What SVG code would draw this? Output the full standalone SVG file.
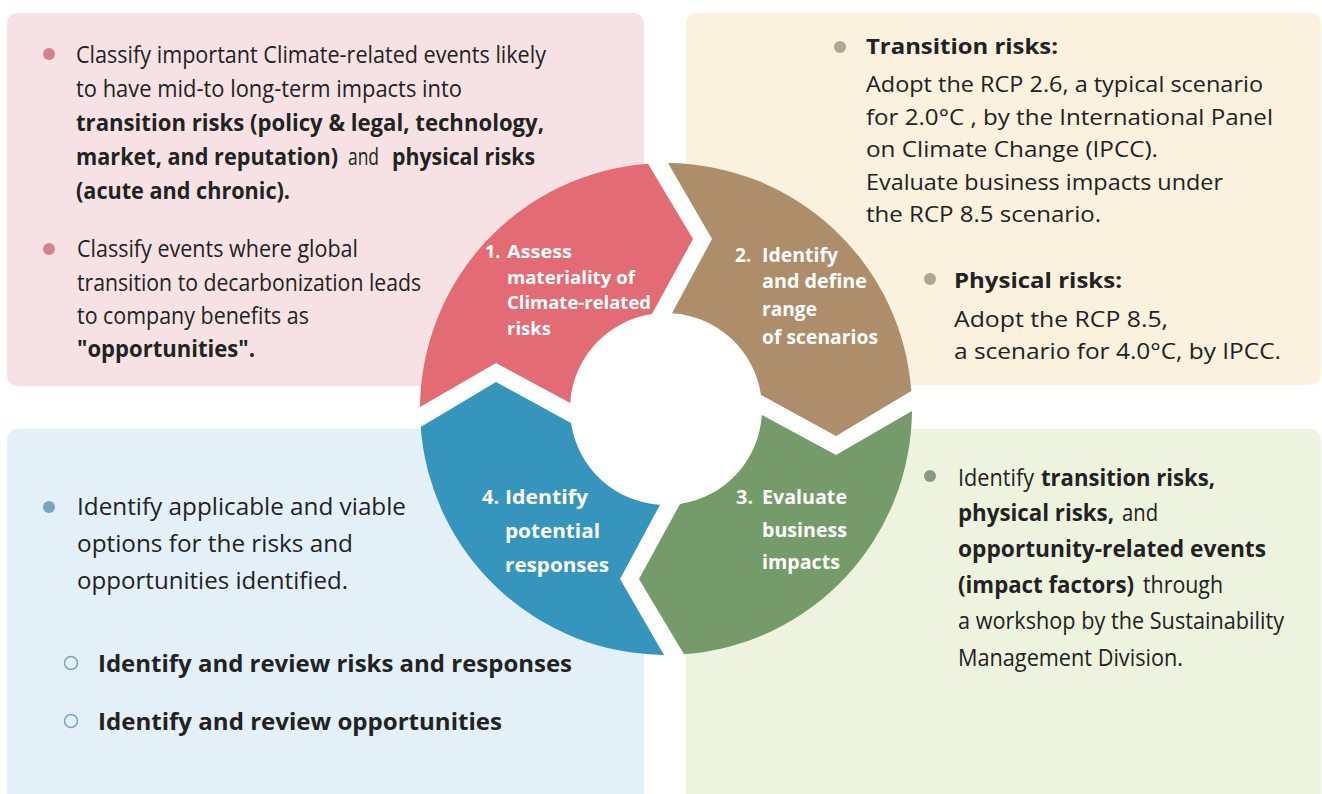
<svg xmlns="http://www.w3.org/2000/svg" width="1322" height="794" viewBox="0 0 1322 794">
<style>
.body{font-family:"Open Sans","Noto Sans","DejaVu Sans",sans-serif;fill:#222;}
.b{font-weight:700;}
.r{font-weight:400;}
.lbl{font-family:"Open Sans","Noto Sans","DejaVu Sans",sans-serif;font-weight:700;fill:#ffffff;}
</style>
<defs>
<path id="seg" d="M 420.01,407 A 246 246 0 0 1 648,163.66 L 693,239 L 652,314.03 A 96 96 0 0 0 570.19,403 L 496,363 Z"/>
</defs>
<rect width="1322" height="794" fill="#ffffff"/>

<g id="panel-assess">
<rect x="7" y="13" width="637" height="373" rx="10" fill="#F6E2E4"/>
<circle cx="49" cy="54" r="6" fill="#D4838B"/>
<text class="body r" font-size="23" x="76" y="63" textLength="470" lengthAdjust="spacingAndGlyphs">Classify important Climate-related events likely</text>
<text class="body r" font-size="23" x="76" y="97" textLength="386" lengthAdjust="spacingAndGlyphs">to have mid-to long-term impacts into</text>
<text class="body b" font-size="23" x="76" y="131" textLength="468" lengthAdjust="spacingAndGlyphs">transition risks (policy &amp; legal, technology,</text>
<text class="body b" font-size="23" x="76" y="165" textLength="262" lengthAdjust="spacingAndGlyphs">market, and reputation)</text>
<text class="body r" font-size="23" x="348" y="165" textLength="31" lengthAdjust="spacingAndGlyphs">and</text>
<text class="body b" font-size="23" x="392" y="165" textLength="143" lengthAdjust="spacingAndGlyphs">physical risks</text>
<text class="body b" font-size="23" x="76" y="199" textLength="214" lengthAdjust="spacingAndGlyphs">(acute and chronic).</text>
<circle cx="49" cy="249" r="6" fill="#D4838B"/>
<text class="body r" font-size="23" x="77" y="257" textLength="281" lengthAdjust="spacingAndGlyphs">Classify events where global</text>
<text class="body r" font-size="23" x="77" y="291" textLength="344" lengthAdjust="spacingAndGlyphs">transition to decarbonization leads</text>
<text class="body r" font-size="23" x="77" y="324" textLength="232" lengthAdjust="spacingAndGlyphs">to company benefits as</text>
<text class="body b" font-size="23" x="77" y="357" textLength="178" lengthAdjust="spacingAndGlyphs">"opportunities".</text>
</g>

<g id="panel-scenarios">
<rect x="686" y="13" width="635" height="372" rx="10" fill="#FAF1DF"/>
<circle cx="840" cy="47" r="6" fill="#B3A48E"/>
<text class="body b" font-size="22" x="866" y="54" textLength="192" lengthAdjust="spacingAndGlyphs">Transition risks:</text>
<text class="body r" font-size="22" x="866" y="92" textLength="397" lengthAdjust="spacingAndGlyphs">Adopt the RCP 2.6, a typical scenario</text>
<text class="body r" font-size="22" x="866" y="125" textLength="407" lengthAdjust="spacingAndGlyphs">for 2.0°C , by the International Panel</text>
<text class="body r" font-size="22" x="866" y="157" textLength="292" lengthAdjust="spacingAndGlyphs">on Climate Change (IPCC).</text>
<text class="body r" font-size="22" x="866" y="190" textLength="357" lengthAdjust="spacingAndGlyphs">Evaluate business impacts under</text>
<text class="body r" font-size="22" x="866" y="222" textLength="235" lengthAdjust="spacingAndGlyphs">the RCP 8.5 scenario.</text>
<circle cx="930" cy="279" r="6" fill="#B3A48E"/>
<text class="body b" font-size="22" x="954" y="288" textLength="168" lengthAdjust="spacingAndGlyphs">Physical risks:</text>
<text class="body r" font-size="22" x="954" y="327" textLength="214" lengthAdjust="spacingAndGlyphs">Adopt the RCP 8.5,</text>
<text class="body r" font-size="22" x="954" y="359" textLength="327" lengthAdjust="spacingAndGlyphs">a scenario for 4.0°C, by IPCC.</text>
</g>

<g id="panel-responses">
<rect x="7" y="429" width="637" height="380" rx="10" fill="#E3F0F8"/>
<circle cx="49" cy="507" r="6" fill="#7AA5B8"/>
<text class="body r" font-size="23" x="77" y="515" textLength="329" lengthAdjust="spacingAndGlyphs">Identify applicable and viable</text>
<text class="body r" font-size="23" x="77" y="552" textLength="276" lengthAdjust="spacingAndGlyphs">options for the risks and</text>
<text class="body r" font-size="23" x="77" y="589" textLength="271" lengthAdjust="spacingAndGlyphs">opportunities identified.</text>
<circle cx="71" cy="663" r="6.5" fill="none" stroke="#7AA5B8" stroke-width="1.5"/>
<text class="body b" font-size="23" x="98" y="672" textLength="474" lengthAdjust="spacingAndGlyphs">Identify and review risks and responses</text>
<circle cx="71" cy="721" r="6.5" fill="none" stroke="#7AA5B8" stroke-width="1.5"/>
<text class="body b" font-size="23" x="98" y="730" textLength="404" lengthAdjust="spacingAndGlyphs">Identify and review opportunities</text>
</g>

<g id="panel-evaluate">
<rect x="686" y="429" width="635" height="380" rx="10" fill="#EEF3DF"/>
<circle cx="930" cy="476" r="6" fill="#8A9A80"/>
<text class="body r" font-size="23" x="958" y="486" textLength="76" lengthAdjust="spacingAndGlyphs">Identify</text>
<text class="body b" font-size="23" x="1041" y="486" textLength="174" lengthAdjust="spacingAndGlyphs">transition risks,</text>
<text class="body b" font-size="23" x="958" y="521" textLength="156" lengthAdjust="spacingAndGlyphs">physical risks,</text>
<text class="body r" font-size="23" x="1122" y="521" textLength="36" lengthAdjust="spacingAndGlyphs">and</text>
<text class="body b" font-size="23" x="958" y="557" textLength="308" lengthAdjust="spacingAndGlyphs">opportunity-related events</text>
<text class="body b" font-size="23" x="958" y="593" textLength="176" lengthAdjust="spacingAndGlyphs">(impact factors)</text>
<text class="body r" font-size="23" x="1143" y="593" textLength="80" lengthAdjust="spacingAndGlyphs">through</text>
<text class="body r" font-size="23" x="958" y="629" textLength="326" lengthAdjust="spacingAndGlyphs">a workshop by the Sustainability</text>
<text class="body r" font-size="23" x="958" y="666" textLength="225" lengthAdjust="spacingAndGlyphs">Management Division.</text>
</g>

<circle cx="666" cy="409" r="246" fill="#ffffff"/>

<g id="step1">
<use href="#seg" fill="#E26B74"/>
<text class="lbl" font-size="18" x="485" y="258">1.</text>
<text class="lbl" font-size="18" x="507" y="258" textLength="65" lengthAdjust="spacingAndGlyphs">Assess</text>
<text class="lbl" font-size="18" x="507" y="284" textLength="128" lengthAdjust="spacingAndGlyphs">materiality of</text>
<text class="lbl" font-size="18" x="507" y="309" textLength="144" lengthAdjust="spacingAndGlyphs">Climate-related</text>
<text class="lbl" font-size="18" x="507" y="335" textLength="44" lengthAdjust="spacingAndGlyphs">risks</text>
</g>

<g id="step2">
<use href="#seg" fill="#AE8D6A" transform="rotate(90 666 409)"/>
<text class="lbl" font-size="19" x="735" y="262">2.</text>
<text class="lbl" font-size="19" x="762" y="262" textLength="76" lengthAdjust="spacingAndGlyphs">Identify</text>
<text class="lbl" font-size="19" x="762" y="288" textLength="105" lengthAdjust="spacingAndGlyphs">and define</text>
<text class="lbl" font-size="19" x="762" y="316" textLength="55" lengthAdjust="spacingAndGlyphs">range</text>
<text class="lbl" font-size="19" x="762" y="344" textLength="116" lengthAdjust="spacingAndGlyphs">of scenarios</text>
</g>

<g id="step3">
<use href="#seg" fill="#749B69" transform="rotate(180 666 409)"/>
<text class="lbl" font-size="20" x="736" y="504">3.</text>
<text class="lbl" font-size="20" x="762" y="504" textLength="85" lengthAdjust="spacingAndGlyphs">Evaluate</text>
<text class="lbl" font-size="20" x="762" y="537" textLength="85" lengthAdjust="spacingAndGlyphs">business</text>
<text class="lbl" font-size="20" x="762" y="569" textLength="78" lengthAdjust="spacingAndGlyphs">impacts</text>
</g>

<g id="step4">
<use href="#seg" fill="#3695BC" transform="rotate(270 666 409)"/>
<text class="lbl" font-size="20" x="482" y="504">4.</text>
<text class="lbl" font-size="20" x="505" y="504" textLength="83" lengthAdjust="spacingAndGlyphs">Identify</text>
<text class="lbl" font-size="20" x="505" y="538" textLength="95" lengthAdjust="spacingAndGlyphs">potential</text>
<text class="lbl" font-size="20" x="505" y="572" textLength="104" lengthAdjust="spacingAndGlyphs">responses</text>
</g>

<g id="connectors"></g>
</svg>
